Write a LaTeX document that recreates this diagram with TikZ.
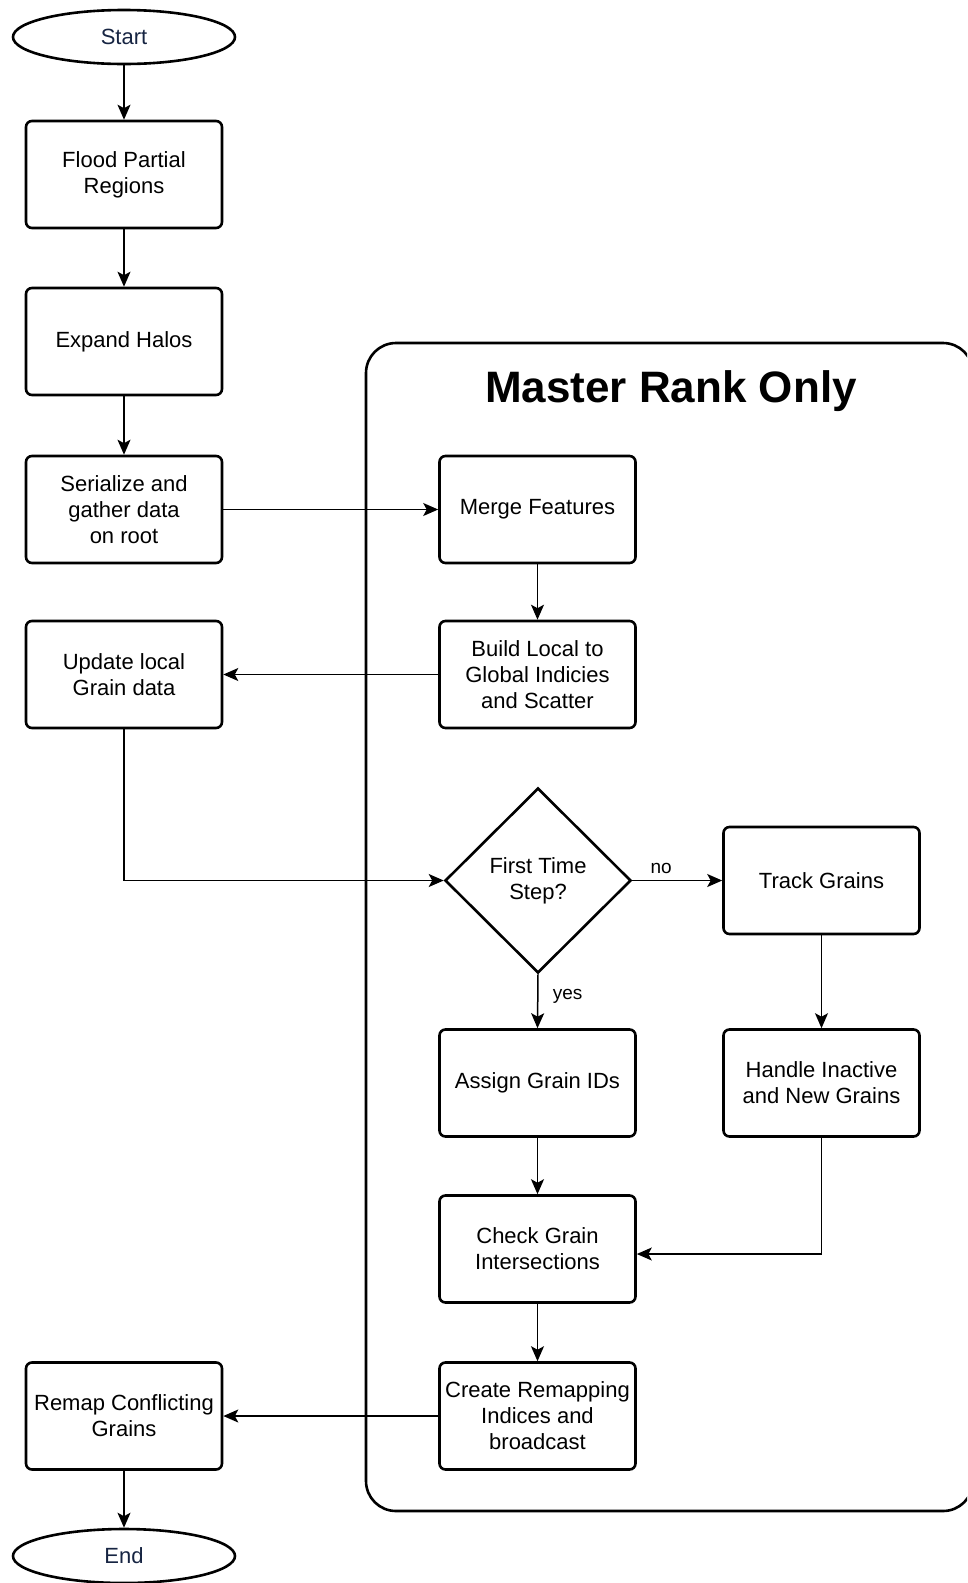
\documentclass[tikz,border=0pt]{standalone}
\usepackage{fontspec}
\setmainfont{Liberation Sans}
\usetikzlibrary{shapes.geometric,arrows.meta}
\definecolor{termtext}{RGB}{22,36,66}
\begin{document}
\begin{tikzpicture}[x=1pt,y=-1pt,
  txt/.style={font=\fontsize{22}{26}\selectfont, align=center},
  box/.style={txt, draw, line width=2.6pt, rounded corners=6pt, minimum width=196pt, minimum height=107pt, inner sep=0pt},
  term/.style={txt, ellipse, draw, line width=2.6pt, minimum width=222pt, minimum height=54pt, inner sep=0pt, text=termtext},
  dec/.style={txt, diamond, draw, line width=2.6pt, minimum width=186pt, minimum height=185pt, inner sep=0pt},
  conn/.style={line width=1.5pt, -{Stealth[length=15pt,width=13pt,inset=3.5pt]}},
  lab/.style={font=\fontsize{19}{22}\selectfont}]
\clip (0,0) rectangle (967,1583);
\draw[line width=2.6pt, rounded corners=30pt] (366,343) rectangle (973,1511);
\node[font=\fontsize{44}{48}\selectfont\bfseries] (title) at (671,391) {Master Rank Only};
\node[term] (start) at (124,37) {Start};
\node[box] (flood) at (124,174.5) {Flood Partial\\Regions};
\node[box] (expand) at (124,341.5) {Expand Halos};
\node[box] (serial) at (124,509.5) {Serialize and\\gather data\\on root};
\node[box] (update) at (124,674.5) {Update local\\Grain data};
\node[box] (remap) at (124,1416) {Remap Conflicting\\Grains};
\node[term] (end) at (124,1556) {End};
\node[box] (merge) at (537.5,509.5) {Merge Features};
\node[box] (build) at (537.5,674.5) {Build Local to\\Global Indicies\\and Scatter};
\node[dec] (first) at (538,880.5) {First Time\\Step?};
\node[box] (track) at (821.5,880.5) {Track Grains};
\node[box] (assign) at (537.5,1083) {Assign Grain IDs};
\node[box] (handle) at (821.5,1083) {Handle Inactive\\and New Grains};
\node[box] (check) at (537.5,1249) {Check Grain\\Intersections};
\node[box] (create) at (537.5,1416) {Create Remapping\\Indices and\\broadcast};
\draw[conn] (start) -- (flood);
\draw[conn] (flood) -- (expand);
\draw[conn] (expand) -- (serial);
\draw[conn] (serial) -- (merge);
\draw[conn] (merge) -- (build);
\draw[conn] (build) -- (update);
\draw[conn] (update.south) |- (first.west);
\draw[conn] (first.east) -- node[lab, pos=0.32, above=3pt] {no} (track.west);
\draw[conn] (first.south) -- node[lab, pos=0.4, right=11pt] {yes} (assign.north);
\draw[conn] (track) -- (handle);
\draw[conn] (handle.south) |- ([yshift=-5pt]check.east);
\draw[conn] (assign) -- (check);
\draw[conn] (check) -- (create);
\draw[conn] (create) -- (remap);
\draw[conn] (remap) -- (end);
\end{tikzpicture}
\end{document}
